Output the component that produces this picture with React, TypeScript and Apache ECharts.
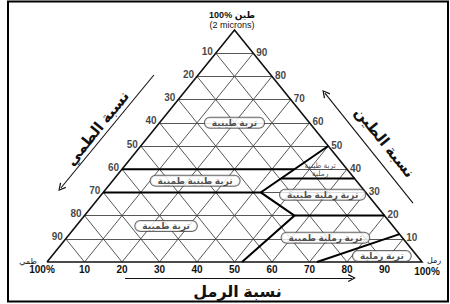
import React, { useEffect, useRef } from 'react';
import * as echarts from 'echarts';

// ternary values in percent: [sand, clay]
const GRID_STEPS = [10, 20, 30, 40, 50, 60, 70, 80, 90];
const LEFT_LABELS = [10, 20, 30, 40, 50, 60, 70, 80, 90]; // silt % on left edge (top -> bottom)
const RIGHT_LABELS = [90, 80, 70, 60, 50, 40, 30, 20, 10]; // clay % on right edge (top -> bottom)

const BOUNDARIES: [number, number][][] = [
  [[0, 40], [46, 40]],
  [[0, 30], [42, 30]],
  [[50, 50], [42, 30], [56, 20], [52, 0]],
  [[44.5, 36], [64, 36]],
  [[56, 20], [80, 20]],
  [[72, 0], [88, 12]],
];

const CLASS_NAMES = [
  'تربة طينية',
  'تربة طينية طميية',
  'تربة طميية',
  'تربة رملية طينية',
  'تربة رملية طميية',
  'تربة رملية',
];
const CLASS_POS: [number, number][] = [
  [20, 60],
  [22, 35],
  [24, 15.5],
  [59, 29],
  [69, 10.5],
  [88, 2.6],
];
const SMALL_CLASS_NAME = 'تربة طينية\nرملية';
const SMALL_CLASS_POS: [number, number] = [53, 39.7];

// decorative arrows (cartesian data coordinates)
const ARROWS: [number, number][][] = [
  [[28.5, 80.6], [3.7, 31.9]],
  [[97.6, 25.4], [74.1, 72.8]],
  [[20.8, -6.9], [81.3, -6.9]],
];

const FONT = "'Liberation Sans', Arial, 'DejaVu Sans', sans-serif";

const toXY = (s: number, c: number): [number, number] => [s + c / 2, c];

export default function App() {
  const ref = useRef<HTMLDivElement>(null);

  useEffect(() => {
    if (!ref.current) return;
    const chart = echarts.init(ref.current, undefined, { renderer: 'svg' });

    const gridLines: any[] = [];
    GRID_STEPS.forEach((k) => {
      gridLines.push({ coords: [toXY(0, k), toXY(100 - k, k)] });
      gridLines.push({ coords: [toXY(k, 0), toXY(k, 100 - k)] });
      gridLines.push({ coords: [toXY(100 - k, 0), toXY(0, 100 - k)] });
    });

    const edges = [{ coords: [toXY(0, 0), toXY(0, 100), toXY(100, 0), toXY(0, 0)] }];
    const bounds = BOUNDARIES.map((b) => ({ coords: b.map(([s, c]) => toXY(s, c)) }));

    const chevron = 'path://M5 0 L10 9 L8.6 9.8 L5 2.8 L1.4 9.8 L0 9 Z';

    const numLabel = {
      fontSize: 10,
      fontWeight: 'bold',
      fontFamily: FONT,
      color: '#111',
    };

    chart.setOption({
      animation: false,
      backgroundColor: '#fff',
      grid: { left: 47, top: 30, width: 375, height: 232, containLabel: false, outerBoundsMode: 'none' },
      xAxis: {
        type: 'value',
        min: 0,
        max: 100,
        interval: 10,
        axisLine: { show: false },
        axisTick: { show: false },
        splitLine: { show: false },
        axisLabel: {
          margin: 2,
          ...numLabel,
          formatter: (v: number) => (v > 0 && v < 100 ? String(v) : ''),
        },
      },
      yAxis: { type: 'value', min: 0, max: 100, show: false },
      series: [
        {
          type: 'lines',
          coordinateSystem: 'cartesian2d',
          silent: true,
          clip: false,
          lineStyle: { color: '#444', width: 0.9, opacity: 1 },
          data: gridLines,
        },
        {
          type: 'lines',
          coordinateSystem: 'cartesian2d',
          polyline: true,
          silent: true,
          clip: false,
          lineStyle: { color: '#111', width: 1.6, opacity: 1 },
          data: edges,
        },
        {
          type: 'lines',
          coordinateSystem: 'cartesian2d',
          polyline: true,
          silent: true,
          clip: false,
          lineStyle: { color: '#000', width: 2, opacity: 1 },
          data: bounds,
        },
        {
          type: 'lines',
          coordinateSystem: 'cartesian2d',
          silent: true,
          clip: false,
          symbol: ['none', chevron],
          symbolSize: [6, 8],
          lineStyle: { color: '#111', width: 1.1, opacity: 1 },
          data: ARROWS.map((a) => ({ coords: a })),
        },
        {
          type: 'scatter',
          silent: true,
          symbolSize: 0,
          clip: false,
          data: LEFT_LABELS.map((v) => ({ name: String(v), value: toXY(0, 100 - v) })),
          label: {
            show: true,
            position: 'left',
            distance: 3,
            offset: [0, -2],
            formatter: '{b}',
            ...numLabel,
          },
        },
        {
          type: 'scatter',
          silent: true,
          symbolSize: 0,
          clip: false,
          data: RIGHT_LABELS.map((v) => ({ name: String(v), value: toXY(100 - v, v) })),
          label: {
            show: true,
            position: 'right',
            distance: 3,
            offset: [0, -1],
            formatter: '{b}',
            ...numLabel,
          },
        },
        {
          type: 'scatter',
          silent: true,
          symbolSize: 0,
          clip: false,
          z: 5,
          data: CLASS_NAMES.map((n, i) => ({ name: n, value: toXY(CLASS_POS[i][0], CLASS_POS[i][1]) })),
          label: {
            show: true,
            position: 'inside',
            formatter: '{b}',
            fontSize: 9,
            fontWeight: 'bold',
            fontFamily: FONT,
            color: '#222',
            backgroundColor: '#fff',
            borderColor: '#444',
            borderWidth: 1,
            borderRadius: 6,
            padding: [1, 7, 0, 7],
          },
        },
        {
          type: 'scatter',
          silent: true,
          symbolSize: 0,
          clip: false,
          z: 5,
          data: [{ name: SMALL_CLASS_NAME, value: toXY(SMALL_CLASS_POS[0], SMALL_CLASS_POS[1]) }],
          label: {
            show: true,
            position: 'inside',
            formatter: '{b}',
            fontSize: 7.5,
            lineHeight: 8,
            fontFamily: FONT,
            color: '#222',
            align: 'center',
          },
        },
      ],
      graphic: [
        {
          type: 'rect',
          shape: { x: 8, y: 1.5, width: 440, height: 300 },
          style: { fill: 'none', stroke: '#000', lineWidth: 2 },
          silent: true,
        },
        {
          type: 'text',
          x: 232,
          y: 15,
          style: { text: '100% طين', fontSize: 9, fontWeight: 'bold', fontFamily: FONT, fill: '#111', align: 'center', verticalAlign: 'middle' },
        },
        {
          type: 'text',
          x: 232,
          y: 24.5,
          style: { text: '(2 microns)', fontSize: 9, fontFamily: FONT, fill: '#111', align: 'center', verticalAlign: 'middle' },
        },
        {
          type: 'text',
          x: 28,
          y: 261,
          style: { text: 'طمي', fontSize: 8, fontFamily: FONT, fill: '#111', align: 'center', verticalAlign: 'middle' },
        },
        {
          type: 'text',
          x: 42,
          y: 269,
          style: { text: '100%', fontSize: 10, fontWeight: 'bold', fontFamily: FONT, fill: '#111', align: 'center', verticalAlign: 'middle' },
        },
        {
          type: 'text',
          x: 434,
          y: 260.5,
          style: { text: 'رمل', fontSize: 8, fontFamily: FONT, fill: '#111', align: 'center', verticalAlign: 'middle' },
        },
        {
          type: 'text',
          x: 427,
          y: 271.5,
          style: { text: '100%', fontSize: 10, fontWeight: 'bold', fontFamily: FONT, fill: '#111', align: 'center', verticalAlign: 'middle' },
        },
        {
          type: 'text',
          x: 237.5,
          y: 291,
          style: { text: 'نسبة الرمل', fontSize: 16, fontWeight: 'bold', fontFamily: FONT, fill: '#111', align: 'center', verticalAlign: 'middle' },
        },
        {
          type: 'text',
          x: 97,
          y: 128,
          rotation: 0.89,
          style: { text: 'نسبة الطمي', fontSize: 15, fontWeight: 'bold', fontFamily: FONT, fill: '#111', align: 'center', verticalAlign: 'middle' },
        },
        {
          type: 'text',
          x: 385,
          y: 142,
          rotation: -0.89,
          style: { text: 'نسبة الطين', fontSize: 15, fontWeight: 'bold', fontFamily: FONT, fill: '#111', align: 'center', verticalAlign: 'middle' },
        },
      ],
    });

    return () => chart.dispose();
  }, []);

  return (
    <div
      ref={ref}
      style={{ position: 'fixed', left: 0, top: 0, width: 450, height: 304, background: '#fff' }}
    />
  );
}
